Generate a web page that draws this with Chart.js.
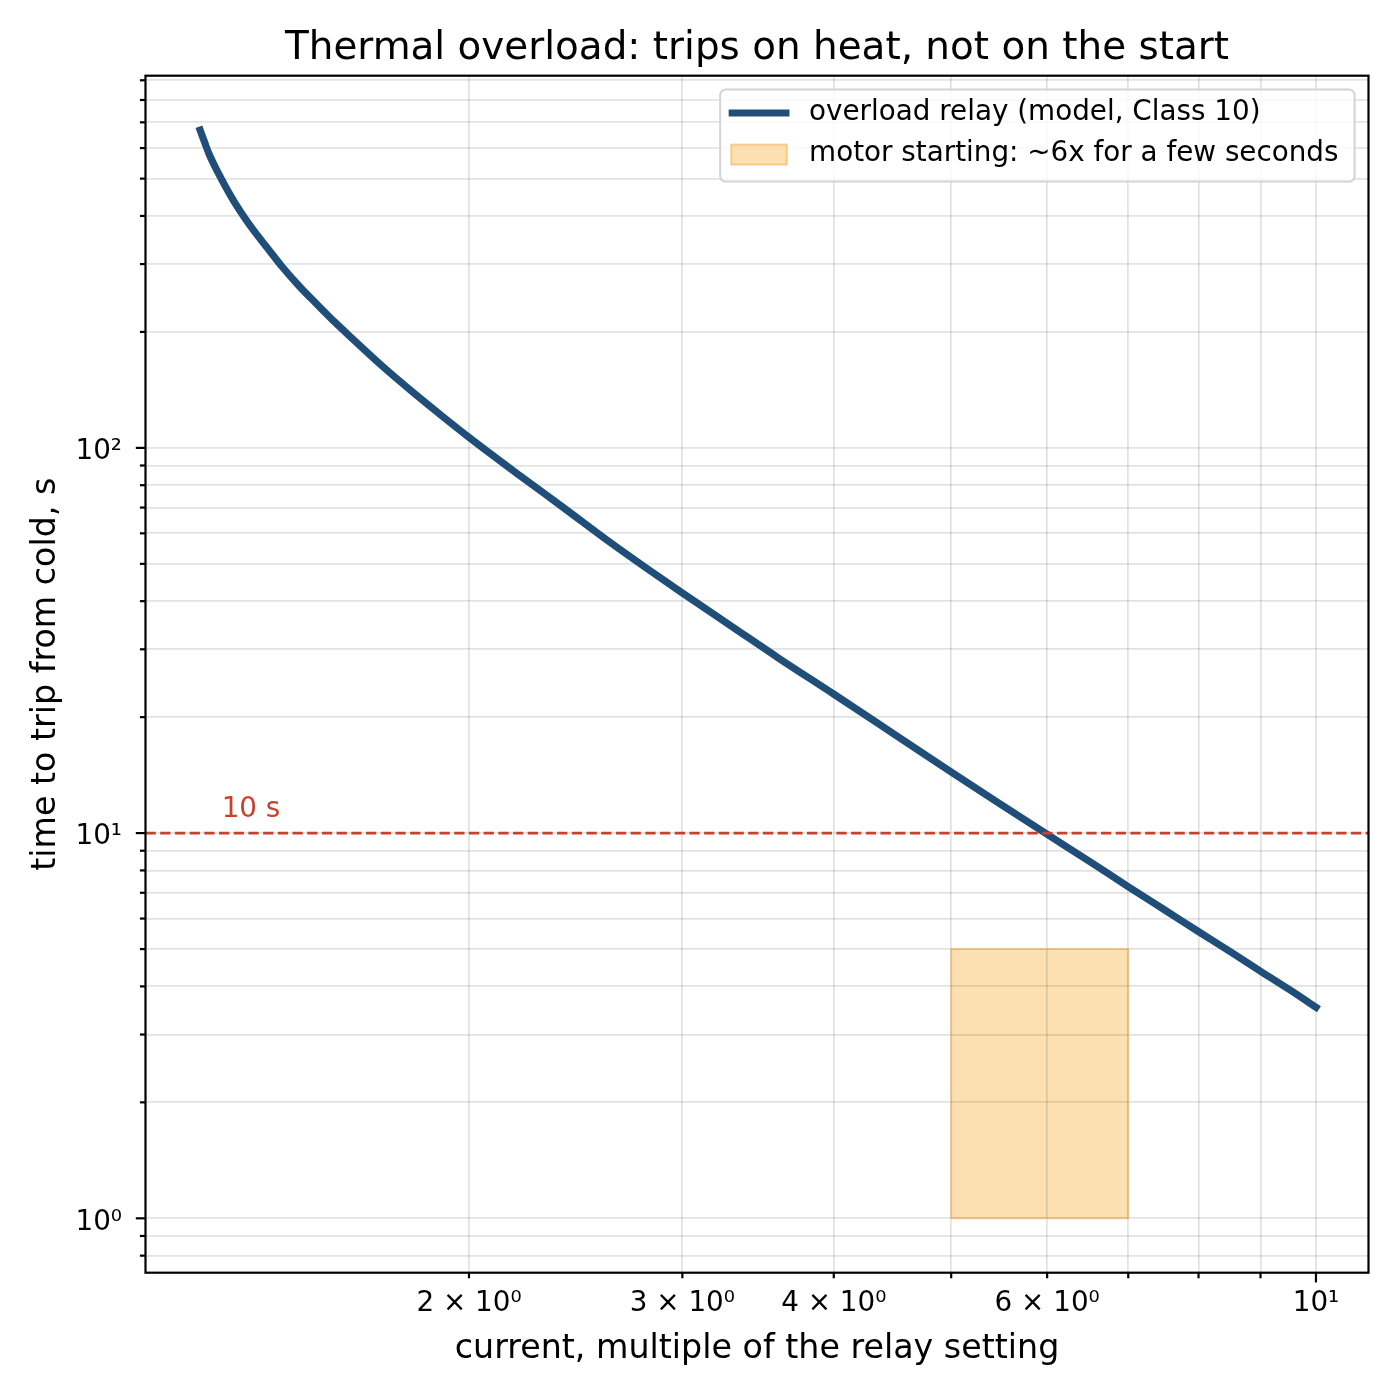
<!DOCTYPE html>
<html>
<head>
<meta charset="utf-8">
<script src="https://cdn.jsdelivr.net/npm/chart.js@4.4.0/dist/chart.umd.min.js"></script>
<style>
  html, body { margin: 0; padding: 0; background: #ffffff; }
  canvas { display: block; }
</style>
</head>
<body>
<canvas id="c" width="1400" height="1400" style="width:1400px;height:1400px"></canvas>
<script>
// ---------------- data ----------------
const CURRENT   = [1.2, 1.21, 1.22, 1.24, 1.26, 1.28, 1.31, 1.34, 1.37, 1.4, 1.45, 1.5, 1.55, 1.6, 1.7, 1.8, 1.9, 2.0, 2.2, 2.4, 2.6, 2.8, 3.0, 3.3, 3.6, 4.0, 4.5, 5.0, 5.5, 6.0, 6.5, 7.0, 7.5, 8.0, 8.5, 9.0, 9.5, 10.0];
const TRIP_TIME = [668, 622, 581, 522, 475, 436, 390, 354, 324, 297, 262, 235, 212, 193, 162, 139, 121, 106.5, 85, 69.5, 57.6, 48.8, 42, 34.3, 28.5, 22.95, 17.95, 14.4, 11.85, 9.93, 8.45, 7.26, 6.32, 5.55, 4.92, 4.38, 3.93, 3.53];

const START_BAND_CURRENT = [5, 7];
const START_BAND_TIME    = [1, 5];

const THRESHOLD_TIME     = 10;
const THRESHOLD_LABEL    = '10 s';
const THRESHOLD_LABEL_AT = [1.25, 11];

const X_LIMITS = [1.0816, 11.05];
const Y_LIMITS = [0.7225, 925];

const X_TICKS       = [2, 3, 4, 5, 6, 7, 8, 9, 10];
const X_TICK_LABELS = ['2 × 10⁰', '3 × 10⁰', '4 × 10⁰', '', '6 × 10⁰', '', '', '', '10¹'];
const X_MAJOR       = [10];

const Y_TICKS        = [0.8, 0.9, 1, 2, 3, 4, 5, 6, 7, 8, 9, 10, 20, 30, 40, 50, 60, 70, 80, 90, 100, 200, 300, 400, 500, 600, 700, 800, 900];
const Y_MAJOR        = [1, 10, 100];
const Y_MAJOR_LABELS = ['10⁰', '10¹', '10²'];

const SERIES_NAMES = ['overload relay (model, Class 10)', 'motor starting: ~6x for a few seconds'];
const TITLE   = 'Thermal overload: trips on heat, not on the start';
const X_LABEL = 'current, multiple of the relay setting';
const Y_LABEL = 'time to trip from cold, s';

// ---------------- styles ----------------
const FONT = '"DejaVu Sans"';
const BLUE = '#1f4e79';
const RED = '#c8412f';
const BAND_FILL = 'rgba(245,166,35,0.35)';
const BAND_EDGE = 'rgba(238,160,45,0.45)';
const GRID = 'rgba(0,0,0,0.11)';

Chart.defaults.font.family = FONT;
Chart.defaults.color = '#000';

const curvePoints = CURRENT.map((x, i) => ({ x: x, y: TRIP_TIME[i] }));
const bandPoints = [
  { x: START_BAND_CURRENT[0], y: START_BAND_TIME[0] },
  { x: START_BAND_CURRENT[0], y: START_BAND_TIME[1] },
  { x: START_BAND_CURRENT[1], y: START_BAND_TIME[1] },
  { x: START_BAND_CURRENT[1], y: START_BAND_TIME[0] },
  { x: START_BAND_CURRENT[0], y: START_BAND_TIME[0] }
];
const thresholdPoints = [
  { x: X_LIMITS[0], y: THRESHOLD_TIME },
  { x: X_LIMITS[1], y: THRESHOLD_TIME }
];

function roundRectPath(ctx, x, y, w, h, r) {
  ctx.beginPath();
  ctx.moveTo(x + r, y);
  ctx.lineTo(x + w - r, y);
  ctx.arcTo(x + w, y, x + w, y + r, r);
  ctx.lineTo(x + w, y + h - r);
  ctx.arcTo(x + w, y + h, x + w - r, y + h, r);
  ctx.lineTo(x + r, y + h);
  ctx.arcTo(x, y + h, x, y + h - r, r);
  ctx.lineTo(x, y + r);
  ctx.arcTo(x, y, x + r, y, r);
  ctx.closePath();
}

const decor = {
  id: 'decor',
  afterDatasetsDraw(chart) {
    const { ctx, chartArea: a, scales } = chart;
    const xs = scales.x, ys = scales.y;
    ctx.save();
    ctx.strokeStyle = '#000';
    ctx.lineWidth = 2.2;
    ctx.lineCap = 'butt';
    xs.ticks.forEach(t => {
      const px = xs.getPixelForValue(t.value);
      const len = X_MAJOR.includes(t.value) ? 9.7 : 5.6;
      ctx.beginPath(); ctx.moveTo(px, a.bottom); ctx.lineTo(px, a.bottom + len); ctx.stroke();
    });
    ys.ticks.forEach(t => {
      const py = ys.getPixelForValue(t.value);
      const len = Y_MAJOR.includes(t.value) ? 9.7 : 5.6;
      ctx.beginPath(); ctx.moveTo(a.left, py); ctx.lineTo(a.left - len, py); ctx.stroke();
    });
    ctx.strokeRect(a.left, a.top, a.right - a.left, a.bottom - a.top);

    ctx.fillStyle = RED;
    ctx.font = '27.8px ' + FONT;
    ctx.textAlign = 'left';
    ctx.textBaseline = 'alphabetic';
    ctx.fillText(THRESHOLD_LABEL, xs.getPixelForValue(THRESHOLD_LABEL_AT[0]), ys.getPixelForValue(THRESHOLD_LABEL_AT[1]));

    ctx.fillStyle = '#000';
    ctx.font = '38.9px ' + FONT;
    ctx.textAlign = 'center';
    ctx.fillText(TITLE, (a.left + a.right) / 2, 59);
    ctx.restore();
  },
  afterDraw(chart) {
    const { ctx, chartArea: a } = chart;
    const fs = 27.8;
    ctx.save();
    ctx.font = fs + 'px ' + FONT;
    const tw = Math.max(...SERIES_NAMES.map(n => ctx.measureText(n).width)) + 5;
    const pad = 11.1, hl = 55.6, htp = 22.2;
    const right = a.right - 13.9;
    const top = a.top + 13.9;
    const w = pad + hl + htp + tw + pad;
    const h = 92;
    const left = right - w;
    roundRectPath(ctx, left, top, w, h, 5.6);
    ctx.fillStyle = 'rgba(255,255,255,0.8)';
    ctx.fill();
    ctx.strokeStyle = 'rgba(204,204,204,0.85)';
    ctx.lineWidth = 2;
    ctx.stroke();

    const cy1 = top + 23.4;
    const cy2 = top + 64.2;
    const hx = left + pad;
    // line handle
    ctx.strokeStyle = BLUE;
    ctx.lineWidth = 7.2;
    ctx.lineCap = 'square';
    ctx.beginPath(); ctx.moveTo(hx + 1, cy1); ctx.lineTo(hx + hl - 1, cy1); ctx.stroke();
    // patch handle
    ctx.fillStyle = BAND_FILL;
    ctx.fillRect(hx, cy2 - 9.2, hl, 20);
    ctx.strokeStyle = BAND_EDGE;
    ctx.lineWidth = 2;
    ctx.lineCap = 'butt';
    ctx.strokeRect(hx, cy2 - 9.2, hl, 20);

    ctx.fillStyle = '#000';
    ctx.textAlign = 'left';
    ctx.textBaseline = 'middle';
    ctx.fillText(SERIES_NAMES[0], hx + hl + htp, cy1);
    ctx.fillText(SERIES_NAMES[1], hx + hl + htp, cy2);
    ctx.restore();
  }
};

new Chart(document.getElementById('c'), {
  type: 'line',
  data: {
    datasets: [
      {
        label: 'threshold',
        data: thresholdPoints,
        borderColor: RED,
        borderWidth: 2.8,
        borderDash: [10.3, 4.4],
        pointRadius: 0,
        fill: false,
        order: 0
      },
      {
        label: SERIES_NAMES[0],
        data: curvePoints,
        borderColor: BLUE,
        borderWidth: 7.2,
        borderCapStyle: 'square',
        borderJoinStyle: 'round',
        cubicInterpolationMode: 'monotone',
        pointRadius: 0,
        fill: false,
        order: 1
      },
      {
        label: SERIES_NAMES[1],
        data: bandPoints,
        borderColor: BAND_EDGE,
        backgroundColor: BAND_FILL,
        borderWidth: 2,
        pointRadius: 0,
        tension: 0,
        fill: 'shape',
        order: 2
      }
    ]
  },
  options: {
    responsive: false,
    animation: false,
    devicePixelRatio: 1,
    events: [],
    layout: { padding: { top: 75.7, right: 31.5, bottom: 0, left: 0 }, autoPadding: false },
    plugins: {
      legend: { display: false },
      title: { display: false },
      tooltip: { enabled: false },
      filler: { drawTime: 'beforeDraw' }
    },
    scales: {
      x: {
        type: 'logarithmic',
        position: 'bottom',
        bounds: 'data',
        min: X_LIMITS[0],
        max: X_LIMITS[1],
        afterFit: s => { s.height = 1400 - 1272.7; },
        afterBuildTicks: s => { s.ticks = X_TICKS.map(v => ({ value: v })); },
        ticks: {
          autoSkip: false, maxRotation: 0, minRotation: 0,
          padding: 14.3,
          color: '#000',
          font: { family: FONT, size: 27.8 },
          callback: v => { const i = X_TICKS.indexOf(v); return i >= 0 ? X_TICK_LABELS[i] : ''; }
        },
        grid: { color: GRID, lineWidth: 1.8, drawTicks: false },
        border: { display: false },
        title: {
          display: true, text: X_LABEL, color: '#000',
          font: { family: FONT, size: 33.3, lineHeight: 1.2 },
          padding: { top: 0, bottom: 30.8 }
        }
      },
      y: {
        type: 'logarithmic',
        position: 'left',
        bounds: 'data',
        min: Y_LIMITS[0],
        max: Y_LIMITS[1],
        afterFit: s => { s.width = 145.5; },
        afterBuildTicks: s => { s.ticks = Y_TICKS.map(v => ({ value: v })); },
        ticks: {
          autoSkip: false,
          padding: 23.5,
          labelOffset: 4,
          color: '#000',
          font: { family: FONT, size: 27.8 },
          callback: v => { const i = Y_MAJOR.indexOf(v); return i >= 0 ? Y_MAJOR_LABELS[i] : ''; }
        },
        grid: { color: GRID, lineWidth: 1.8, drawTicks: false },
        border: { display: false },
        title: {
          display: true, text: Y_LABEL, color: '#000',
          font: { family: FONT, size: 33.3, lineHeight: 1.2 },
          padding: { top: 26, bottom: 0 }
        }
      }
    }
  },
  plugins: [decor]
});
</script>
</body>
</html>
